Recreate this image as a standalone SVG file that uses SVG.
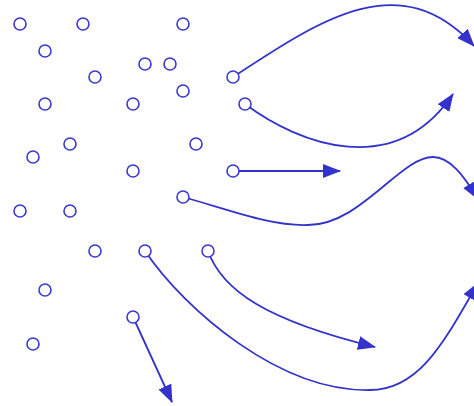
<svg xmlns="http://www.w3.org/2000/svg" width="474" height="406" viewBox="0 0 474 406">
<defs>
<style>
.n{fill:#fff;stroke:#3a3acc;stroke-width:1.6}
.e{fill:none;stroke:#3333cc;stroke-width:1.8;marker-end:url(#ah)}
</style>
<marker id="ah" markerUnits="userSpaceOnUse" markerWidth="18" markerHeight="14" viewBox="0 0 18 14" refX="17" refY="7" orient="auto">
<path d="M0,0 L18,7 L0,14 z" fill="#3333cc"/>
</marker>
</defs>
<rect width="474" height="406" fill="#fff"/>
<g id="connectors">
<path class="e" d="M233,77 C320,20 400,-35 474,46"/>
<path class="e" d="M245,104 C300,145 395,180 453,94"/>
<path class="e" d="M233,171 L340,171"/>
<path class="e" d="M183,197 C230,210 270,226 307,225 C360,226 400,157 433,157 C450,157 464,176 478,199"/>
<path class="e" d="M208,251 C222,290 265,320 375,347"/>
<path class="e" d="M145,251 C185,310 280,392 370,390 C420,390 445,340 478,283"/>
<path class="e" d="M133,317 L172,402"/>
</g>
<g id="n1"><circle class="n" cx="20" cy="24" r="6"/></g>
<g id="n2"><circle class="n" cx="83" cy="24" r="6"/></g>
<g id="n3"><circle class="n" cx="183" cy="24" r="6"/></g>
<g id="n4"><circle class="n" cx="45" cy="51" r="6"/></g>
<g id="n5"><circle class="n" cx="145" cy="64" r="6"/></g>
<g id="n6"><circle class="n" cx="170" cy="64" r="6"/></g>
<g id="n7"><circle class="n" cx="95" cy="77" r="6"/></g>
<g id="n8"><circle class="n" cx="233" cy="77" r="6"/></g>
<g id="n9"><circle class="n" cx="183" cy="91" r="6"/></g>
<g id="n10"><circle class="n" cx="45" cy="104" r="6"/></g>
<g id="n11"><circle class="n" cx="133" cy="104" r="6"/></g>
<g id="n12"><circle class="n" cx="245" cy="104" r="6"/></g>
<g id="n13"><circle class="n" cx="70" cy="144" r="6"/></g>
<g id="n14"><circle class="n" cx="196" cy="144" r="6"/></g>
<g id="n15"><circle class="n" cx="33" cy="157" r="6"/></g>
<g id="n16"><circle class="n" cx="133" cy="171" r="6"/></g>
<g id="n17"><circle class="n" cx="233" cy="171" r="6"/></g>
<g id="n18"><circle class="n" cx="183" cy="197" r="6"/></g>
<g id="n19"><circle class="n" cx="20" cy="211" r="6"/></g>
<g id="n20"><circle class="n" cx="70" cy="211" r="6"/></g>
<g id="n21"><circle class="n" cx="95" cy="251" r="6"/></g>
<g id="n22"><circle class="n" cx="145" cy="251" r="6"/></g>
<g id="n23"><circle class="n" cx="208" cy="251" r="6"/></g>
<g id="n24"><circle class="n" cx="45" cy="290" r="6"/></g>
<g id="n25"><circle class="n" cx="133" cy="317" r="6"/></g>
<g id="n26"><circle class="n" cx="33" cy="344" r="6"/></g>
</svg>
